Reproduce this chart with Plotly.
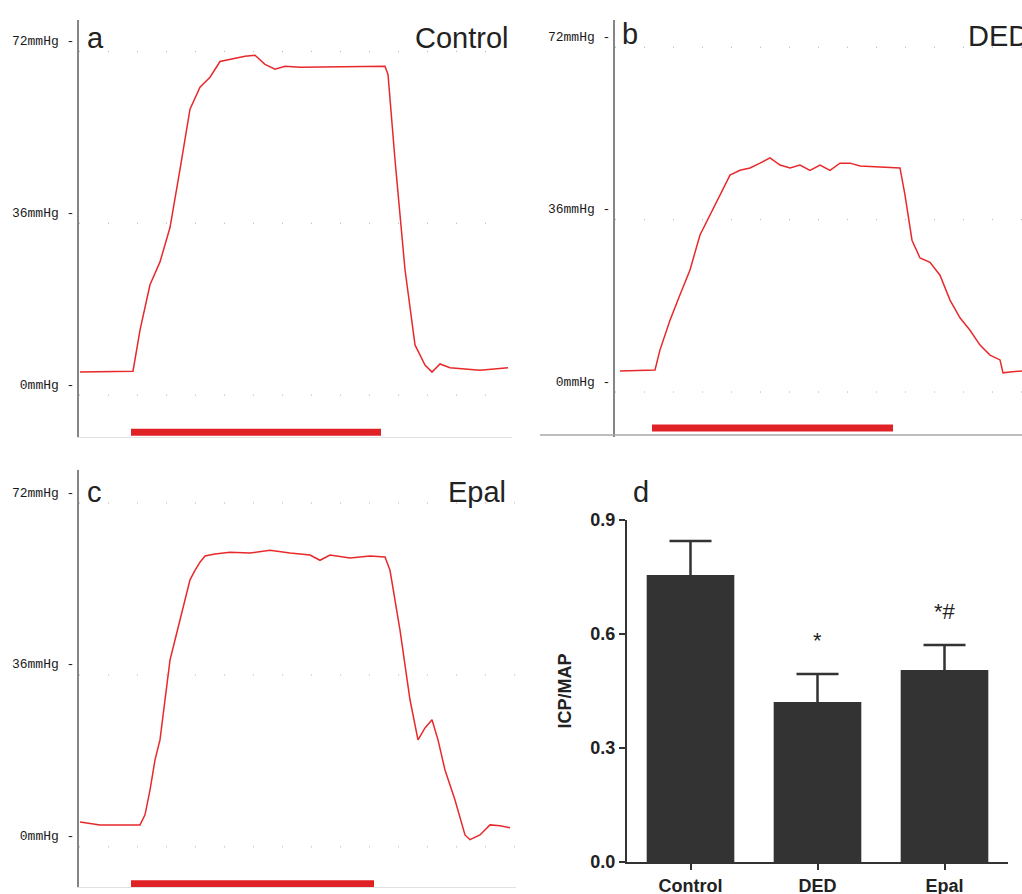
import plotly.graph_objects as go

# ---------------- data ----------------
# Panel a (Control): time (arb. units) and ICP (mmHg)
a_t = [0, 53, 60, 70, 80, 90, 100, 110, 120, 130, 140, 150, 165, 175, 185, 195, 205, 220, 270, 305,
       308, 315, 325, 335, 345, 352, 360, 370, 400, 428]
a_v = [2.5, 2.7, 11.3, 20.8, 25.6, 32.8, 45.0, 57.6, 62.2, 64.3, 67.6, 68.0, 68.7, 68.9, 67.0, 66.0,
       66.6, 66.4, 66.6, 66.6, 64.9, 47.0, 24.0, 8.2, 4.0, 2.5, 4.2, 3.4, 2.9, 3.4]
a_stim = [51, 301]

# Panel b (DED)
b_t = [5, 40, 45, 55, 65, 75, 85, 95, 105, 115, 125, 135, 145, 155, 165, 175, 185, 195, 205, 215,
       225, 235, 245, 265, 285, 290, 297, 305, 315, 325, 335, 345, 355, 365, 375, 385, 388, 395, 407]
b_v = [2.1, 2.3, 6.5, 12.7, 18.0, 23.2, 30.5, 34.7, 38.8, 43.0, 44.0, 44.5, 45.5, 46.6, 45.1, 44.5,
       45.1, 44.0, 45.1, 44.0, 45.5, 45.5, 44.9, 44.7, 44.5, 38.8, 29.4, 25.7, 24.8, 22.1, 16.9, 13.2,
       10.6, 7.5, 5.4, 4.4, 1.7, 1.9, 2.1]
b_stim = [37, 278]

# Panel c (Epal)
c_t = [0, 20, 60, 65, 70, 75, 80, 85, 90, 95, 100, 105, 110, 115, 120, 125, 135, 150, 170, 190,
       210, 230, 240, 250, 270, 290, 305, 310, 320, 330, 338, 345, 352, 358, 365, 375, 385, 390,
       400, 410, 420, 430]
c_v = [2.9, 2.3, 2.3, 4.4, 9.6, 15.9, 20.1, 28.5, 36.8, 41.0, 45.2, 49.4, 53.6, 55.6, 57.3, 58.6,
       59.0, 59.4, 59.2, 59.8, 59.2, 58.8, 57.7, 58.8, 58.2, 58.6, 58.4, 55.6, 43.1, 28.5, 20.1,
       22.6, 24.3, 20.1, 13.8, 7.5, 0.2, -0.8, 0.2, 2.3, 2.1, 1.7]
c_stim = [51, 294]

# Panel d: ICP/MAP
groups = ["Control", "DED", "Epal"]
ratio_mean = [0.755, 0.421, 0.505]
ratio_sem = [0.090, 0.074, 0.066]
sig_marks = ["", "*", "*#"]

mmhg_ticks = [0, 36, 72]
mmhg_text = ["0mmHg -", "36mmHg -", "72mmHg -"]
ratio_ticks = [0.0, 0.3, 0.6, 0.9]

# ---------------- style ----------------
W, H = 1022, 894
RED = "#e8292b"
STIM_RED = "#e02226"
AX_GRAY = "#858585"
DARK = "#333333"
GRID_OFFSET = 2.3  # dotted reference grid sits slightly below the labels


def px(x):
    return x / W


def py(y):
    return 1 - y / H


fig = go.Figure()

panels = [
    ("x", "y", a_t, a_v, a_stim, -10.1),
    ("x2", "y2", b_t, b_v, b_stim, -9.8),
    ("x3", "y3", c_t, c_v, c_stim, -10.0),
]
for xa, ya, t, v, stim, lvl in panels:
    fig.add_trace(go.Scatter(x=t, y=v, mode="lines", xaxis=xa, yaxis=ya,
                             line=dict(color=RED, width=1.5), hoverinfo="skip",
                             showlegend=False))
    fig.add_trace(go.Scatter(x=stim, y=[lvl, lvl], mode="lines", xaxis=xa, yaxis=ya,
                             line=dict(color=STIM_RED, width=7), hoverinfo="skip",
                             showlegend=False))

fig.add_trace(go.Bar(x=groups, y=ratio_mean, xaxis="x4", yaxis="y4",
                     marker=dict(color=DARK, line=dict(width=0)), width=0.69,
                     error_y=dict(type="data", array=ratio_sem, symmetric=True,
                                  color=DARK, thickness=2.5, width=21),
                     showlegend=False))

trace_yaxis = dict(showgrid=False, zeroline=False, showline=True, linecolor=AX_GRAY,
                   linewidth=2, tickvals=mmhg_ticks, ticktext=mmhg_text, ticks="",
                   ticklabelstandoff=0, automargin=False,
                   tickfont=dict(family="Liberation Mono", size=13, color="#1a1a1a"))
trace_xaxis = dict(showgrid=False, zeroline=False, showticklabels=False, ticks="",
                   showline=True, linecolor="#e2e2e2", linewidth=1, automargin=False)

bold18 = dict(family="Liberation Sans", size=18, color="#222", weight="bold")

fig.update_layout(
    width=W, height=H, margin=dict(l=0, r=0, t=0, b=0, pad=0, autoexpand=False),
    paper_bgcolor="white", plot_bgcolor="white",
    xaxis=dict(trace_xaxis, domain=[px(79), px(512)], range=[-1, 432], anchor="y"),
    yaxis=dict(trace_yaxis, domain=[py(437), py(20)], range=[-11.1, 76.3], anchor="x"),
    xaxis2=dict(trace_xaxis, domain=[px(615), 1.0], range=[0, 407], anchor="y2",
                showline=False),
    yaxis2=dict(trace_yaxis, domain=[py(437), py(20)], range=[-11.7, 75.4], anchor="x2"),
    xaxis3=dict(trace_xaxis, domain=[px(79), px(516)], range=[-1, 436], anchor="y3"),
    yaxis3=dict(trace_yaxis, domain=[py(887), py(470)], range=[-10.7, 76.6], anchor="x3"),
    xaxis4=dict(domain=[px(627), px(1008)], range=[-0.5, 2.5], anchor="y4", automargin=False,
                showline=True, linecolor=DARK, linewidth=2, ticks="outside", ticklen=6,
                tickwidth=2, tickcolor=DARK, showgrid=False, tickfont=bold18),
    yaxis4=dict(domain=[py(862), py(520)], range=[0, 0.9], anchor="x4", automargin=False,
                showline=True, linecolor=DARK, linewidth=2, ticks="outside", ticklen=6,
                tickwidth=2, tickcolor=DARK, showgrid=False, zeroline=False,
                tickvals=ratio_ticks, ticktext=["0.0", "0.3", "0.6", "0.9"],
                tickfont=bold18,
                title=dict(text="ICP/MAP", standoff=14, font=bold18)),
)

# dotted reference grid rows
shapes = []
for xa, ya, rng in [("x", "y", (-1, 432)), ("x2", "y2", (0, 407)), ("x3", "y3", (-1, 436))]:
    for lev in mmhg_ticks:
        shapes.append(dict(type="line", xref=xa, yref=ya, x0=rng[0], x1=rng[1],
                           y0=lev - GRID_OFFSET, y1=lev - GRID_OFFSET,
                           line=dict(color="#b0b0b0", width=1, dash="1px,28px")))
# baseline rule under panel b
shapes.append(dict(type="line", xref="paper", yref="paper", x0=px(540), x1=1.0,
                   y0=py(435), y1=py(435), line=dict(color="#a8a8a8", width=1.5)))
fig.update_layout(shapes=shapes)

lab_font = dict(family="Liberation Sans", size=29, color="#222")
annotations = [
    dict(text="a", x=px(85), y=py(38), xanchor="left"),
    dict(text="Control", x=px(511), y=py(38), xanchor="right"),
    dict(text="b", x=px(620), y=py(34), xanchor="left"),
    dict(text="DED", x=px(966), y=py(36), xanchor="left"),
    dict(text="c", x=px(85), y=py(492), xanchor="left"),
    dict(text="Epal", x=px(508), y=py(492), xanchor="right"),
    dict(text="d", x=px(631), y=py(492), xanchor="left"),
]
for an in annotations:
    fig.add_annotation(xref="paper", yref="paper", yanchor="middle", showarrow=False,
                       font=lab_font, **an)

for g, m, s, mark in zip(groups, ratio_mean, ratio_sem, sig_marks):
    if mark:
        fig.add_annotation(x=g, y=m + s, xref="x4", yref="y4", text=mark, showarrow=False,
                           yanchor="bottom", yshift=19,
                           font=dict(family="Liberation Sans", size=22, color="#222"))

fig.write_html("out.html", config={"displayModeBar": False},
               post_script="document.body.style.margin='0';document.body.style.overflow='hidden';")
